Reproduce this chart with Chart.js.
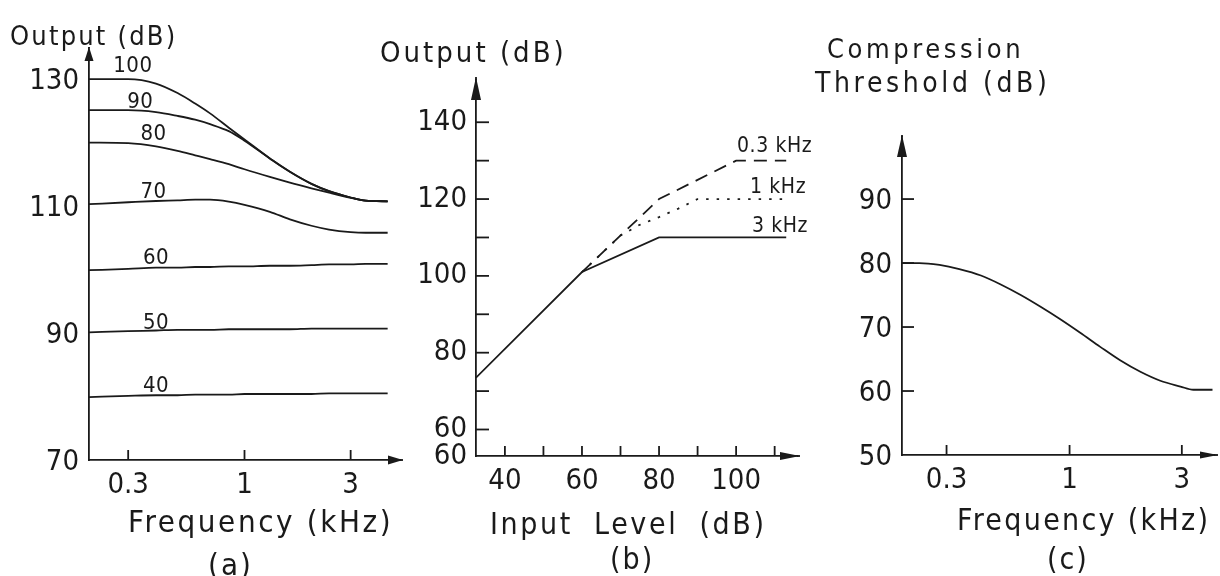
<!DOCTYPE html>
<html><head><meta charset="utf-8">
<script src="https://cdn.jsdelivr.net/npm/chart.js@4.4.1/dist/chart.umd.min.js"></script>
<style>
html,body{margin:0;padding:0;background:#fff;}
#wrap{position:relative;width:1220px;height:576px;overflow:hidden;background:#fff;}
canvas{position:absolute;top:0;}
.t{position:absolute;white-space:nowrap;font-family:'DejaVu Sans Condensed','DejaVu Sans',sans-serif;color:#1a1a1a;line-height:1;}
</style></head><body>
<div id="wrap">
<canvas id="ca" width="420" height="576" style="left:0px"></canvas>
<canvas id="cb" width="420" height="576" style="left:400px"></canvas>
<canvas id="cc" width="400" height="576" style="left:820px"></canvas>
<div class="t" style="left:10px;top:22px;font-size:27px;letter-spacing:2.2px">Output (dB)</div>
<div class="t" style="left:380px;top:38px;font-size:29px;letter-spacing:3px">Output (dB)</div>
<div class="t" style="left:827px;top:35px;font-size:27px;letter-spacing:3.6px">Compression</div>
<div class="t" style="left:815px;top:69px;font-size:28px;letter-spacing:3.6px">Threshold (dB)</div>
<div class="t" style="left:128px;top:506px;font-size:31px;letter-spacing:2.6px">Frequency (kHz)</div>
<div class="t" style="left:208px;top:549px;font-size:31px;letter-spacing:2px">(a)</div>
<div class="t" style="left:490px;top:509px;font-size:30px;letter-spacing:2.6px;word-spacing:10px">Input Level (dB)</div>
<div class="t" style="left:610px;top:544px;font-size:30px;letter-spacing:2px">(b)</div>
<div class="t" style="left:957px;top:505px;font-size:30px;letter-spacing:2.3px">Frequency (kHz)</div>
<div class="t" style="left:1047px;top:544px;font-size:30px;letter-spacing:2px">(c)</div>
</div>
<script>
// ================= DATA =================
// Panel (a): output vs frequency for input levels 40..100 dB
const freqA   = [0.2, 0.3, 0.4, 0.5, 0.6, 0.7, 0.85, 1.0, 1.3, 1.6, 2.0, 2.4, 3.0, 3.5, 4.4];
const levelsA = ['100', '90', '80', '70', '60', '50', '40'];
const outA100 = [130, 130, 129.3, 127.8, 126.15, 124.6, 122.35, 120.5, 117.5, 115.4, 113.5, 112.35, 111.35, 110.85, 110.75];
const outA90  = [125.1, 125.1, 124.8, 124.2, 123.6, 122.9, 121.8, 120.3, 117.5, 115.4, 113.5, 112.35, 111.35, 110.85, 110.75];
const outA80  = [120, 119.9, 119.4, 118.7, 118.0, 117.4, 116.6, 115.8, 114.6, 113.7, 112.8, 112.1, 111.3, 110.85, 110.75];
const outA70  = [110.3, 110.6, 110.8, 110.9, 111.0, 111.0, 110.7, 110.2, 109.1, 107.9, 106.9, 106.3, 105.9, 105.8, 105.8];
const outA60  = [99.9, 100.1, 100.3, 100.3, 100.4, 100.4, 100.5, 100.5, 100.6, 100.6, 100.7, 100.8, 100.8, 100.9, 100.9];
const outA50  = [90.1, 90.3, 90.4, 90.5, 90.5, 90.5, 90.6, 90.6, 90.6, 90.6, 90.7, 90.7, 90.7, 90.7, 90.7];
const outA40  = [79.9, 80.1, 80.2, 80.2, 80.3, 80.3, 80.3, 80.4, 80.4, 80.4, 80.4, 80.5, 80.5, 80.5, 80.5];
const xTickValsA   = [0.3, 1, 3];
const xTickLabelsA = ['0.3', '1', '3'];
const yTickValsA   = [70, 90, 110, 130];
const yTickLabelsA = ['70', '90', '110', '130'];

// Panel (b): output vs input level at three frequencies
const seriesNamesB = ['0.3 kHz', '1 kHz', '3 kHz'];
const inB03  = [60, 80, 100, 113];
const outB03 = [101, 120, 130, 130];
const inB1   = [60, 70, 75, 80, 85, 90, 113];
const outB1  = [101, 110.5, 113.3, 115.3, 117.5, 120, 120];
const inB3   = [32.5, 60, 80, 113];
const outB3  = [73.5, 101, 110, 110];
const xTickValsB   = [40, 60, 80, 100];
const xTickLabelsB = ['40', '60', '80', '100'];
const xMarkValsB   = [40, 50, 60, 70, 80, 90, 100, 110];
const yTickValsB   = [60, 80, 100, 120, 140];
const yTickLabelsB = ['60', '80', '100', '120', '140'];
const yMarkValsB   = [60, 70, 80, 90, 100, 110, 120, 130, 140];
const yOriginLabelB = '60';

// Panel (c): compression threshold vs frequency
const freqC = [0.195, 0.23, 0.28, 0.34, 0.42, 0.51, 0.62, 0.75, 0.91, 1.11, 1.35, 1.64, 2.0, 2.43, 2.96, 3.36, 4.05];
const thrC  = [80, 80, 79.7, 79.05, 78.05, 76.65, 75.0, 73.2, 71.25, 69.1, 66.9, 64.8, 63.0, 61.6, 60.7, 60.2, 60.2];
const xTickValsC   = [0.3, 1, 3];
const xTickLabelsC = ['0.3', '1', '3'];
const yTickValsC   = [50, 60, 70, 80, 90];
const yTickLabelsC = ['50', '60', '70', '80', '90'];
const yMarkValsC   = [60, 70, 80, 90];

// ================= STYLE / HELPERS =================
const FONT = "'DejaVu Sans Condensed','DejaVu Sans',sans-serif";
const INK = '#1a1a1a';
const LW = 1.8;
const TICK_SIZE = 29;

const pts = (xs, ys) => xs.map((x, i) => ({x: x, y: ys[i]}));

const decor = {
  id: 'decor',
  afterDraw(chart, args, o) {
    const ctx = chart.ctx, xs = chart.scales.x, ys = chart.scales.y, a = chart.chartArea;
    ctx.save();
    ctx.strokeStyle = INK; ctx.fillStyle = INK; ctx.lineWidth = LW;
    (o.xMarks || []).forEach(v => {
      const px = xs.getPixelForValue(v);
      ctx.beginPath(); ctx.moveTo(px, a.bottom); ctx.lineTo(px, a.bottom - o.xMarkLen); ctx.stroke();
    });
    (o.yMarks || []).forEach(v => {
      const py = ys.getPixelForValue(v);
      ctx.beginPath(); ctx.moveTo(a.left, py); ctx.lineTo(a.left + o.yMarkLen, py); ctx.stroke();
    });
    const ya = o.yArrow, xa = o.xArrow;
    ctx.beginPath();
    ctx.moveTo(a.left, a.top - ya.over);
    ctx.lineTo(a.left - ya.w, a.top - ya.over + ya.len);
    ctx.lineTo(a.left + ya.w, a.top - ya.over + ya.len);
    ctx.closePath(); ctx.fill();
    ctx.beginPath(); ctx.moveTo(a.left, a.top); ctx.lineTo(a.left, a.top - ya.over); ctx.stroke();
    ctx.beginPath();
    ctx.moveTo(a.right + xa.over, a.bottom);
    ctx.lineTo(a.right + xa.over - xa.len, a.bottom - xa.w);
    ctx.lineTo(a.right + xa.over - xa.len, a.bottom + xa.w);
    ctx.closePath(); ctx.fill();
    ctx.beginPath(); ctx.moveTo(a.right, a.bottom); ctx.lineTo(a.right + xa.over, a.bottom); ctx.stroke();
    (o.labels || []).forEach(l => {
      ctx.font = l.size + 'px ' + FONT;
      if ('letterSpacing' in ctx) ctx.letterSpacing = (l.ls || 0) + 'px';
      ctx.textAlign = 'center'; ctx.textBaseline = 'alphabetic';
      ctx.fillText(l.text, xs.getPixelForValue(l.x), ys.getPixelForValue(l.y) - l.lift);
    });
    ctx.restore();
  }
};

function xScale(type, min, max, vals, labels, height, pad) {
  return {
    type: type, min: min, max: max, position: 'bottom',
    grid: {display: false, drawTicks: false},
    border: {display: true, color: INK, width: LW},
    afterBuildTicks: s => { s.ticks = vals.map(v => ({value: v})); },
    ticks: {autoSkip: false, maxRotation: 0, minRotation: 0, padding: pad, color: INK,
            font: {family: FONT, size: TICK_SIZE}, callback: (v, i) => labels[i]},
    afterFit: s => { s.height = height; s.paddingLeft = 0; s.paddingRight = 0; s.paddingTop = 0; s.paddingBottom = 0; }
  };
}
function yScale(min, max, vals, labels, width, pad, off) {
  return {
    type: 'linear', min: min, max: max, position: 'left',
    grid: {display: false, drawTicks: false},
    border: {display: true, color: INK, width: LW},
    afterBuildTicks: s => { s.ticks = vals.map(v => ({value: v})); },
    ticks: {autoSkip: false, padding: pad, color: INK, labelOffset: off,
            font: {family: FONT, size: TICK_SIZE}, callback: (v, i) => labels[i]},
    afterFit: s => { s.width = width; s.paddingLeft = 0; s.paddingRight = 0; s.paddingTop = 0; s.paddingBottom = 0; }
  };
}
function lineDs(data, extra) {
  return Object.assign({data: data, borderColor: INK, borderWidth: LW, pointRadius: 0, fill: false,
                        cubicInterpolationMode: 'monotone'}, extra || {});
}
const baseOpts = {responsive: false, animation: false, devicePixelRatio: 1,
                  plugins: {legend: {display: false}, tooltip: {enabled: false}}};

// ================= PANEL (a) =================
const seriesA = [outA100, outA90, outA80, outA70, outA60, outA50, outA40];
const labelFreqA = [0.315, 0.34, 0.39, 0.39, 0.4, 0.4, 0.4];
const labelLiftA = [7, 2, 3, 4, 5, 2, 4];
new Chart(document.getElementById('ca'), {
  type: 'line',
  data: {datasets: seriesA.map((s, i) => lineDs(pts(freqA, s), {label: levelsA[i]}))},
  options: Object.assign({}, baseOpts, {
    layout: {padding: {left: 0, right: 20, top: 48, bottom: 0}},
    scales: {
      x: xScale('logarithmic', 0.2, 5, xTickValsA, xTickLabelsA, 116, 8),
      y: yScale(70, 134.9, yTickValsA, yTickLabelsA, 89, 10, 2)
    },
    plugins: Object.assign({}, baseOpts.plugins, {decor: {
      xMarks: xTickValsA, xMarkLen: 10, yMarks: [], yMarkLen: 0,
      yArrow: {over: 1, len: 14, w: 4.5}, xArrow: {over: 3, len: 15, w: 4.5},
      labels: levelsA.map((t, i) => ({text: t, x: labelFreqA[i], y: seriesA[i][1], lift: labelLiftA[i], size: 22, ls: 0.5}))
    }})
  }),
  plugins: [decor]
});

// ================= PANEL (b) =================
const yTicksB = [53.1].concat(yTickValsB);
const yLabelsB = [yOriginLabelB].concat(yTickLabelsB);
const inB = [inB03, inB1, inB3], outB = [outB03, outB1, outB3];
const dashB = [[13, 8], [2.5, 8], []];
const labelXB = [110, 110.9, 111.4];
const labelLiftB = [9, 6, 5];
new Chart(document.getElementById('cb'), {
  type: 'line',
  data: {datasets: seriesNamesB.map((n, i) => lineDs(pts(inB[i], outB[i]),
          {label: n, borderDash: dashB[i], cubicInterpolationMode: 'default', tension: 0}))},
  options: Object.assign({}, baseOpts, {
    layout: {padding: {left: 0, right: 23, top: 80, bottom: 0}},
    scales: {
      x: xScale('linear', 32.5, 115.8, xTickValsB, xTickLabelsB, 120, 8),
      y: yScale(53.1, 151, yTicksB, yLabelsB, 76, 9, 0)
    },
    plugins: Object.assign({}, baseOpts.plugins, {decor: {
      xMarks: xMarkValsB, xMarkLen: 10, yMarks: yMarkValsB, yMarkLen: 13,
      yArrow: {over: 3, len: 23, w: 5}, xArrow: {over: 3, len: 20, w: 4},
      labels: seriesNamesB.map((t, i) => ({text: t, x: labelXB[i], y: outB[i][outB[i].length - 1], lift: labelLiftB[i], size: 21, ls: 0.6}))
    }})
  }),
  plugins: [decor]
});

// ================= PANEL (c) =================
new Chart(document.getElementById('cc'), {
  type: 'line',
  data: {datasets: [lineDs(pts(freqC, thrC), {label: 'Compression threshold'})]},
  options: Object.assign({}, baseOpts, {
    layout: {padding: {left: 0, right: 6, top: 137, bottom: 0}},
    scales: {
      x: xScale('logarithmic', 0.194, 4.11, xTickValsC, xTickLabelsC, 121, 8),
      y: yScale(50, 99.7, yTickValsC, yTickLabelsC, 82, 10, 2)
    },
    plugins: Object.assign({}, baseOpts.plugins, {decor: {
      xMarks: xTickValsC, xMarkLen: 10, yMarks: yMarkValsC, yMarkLen: 12,
      yArrow: {over: 2, len: 22, w: 5}, xArrow: {over: 4, len: 18, w: 3.5},
      labels: []
    }})
  }),
  plugins: [decor]
});
</script>
</body></html>
